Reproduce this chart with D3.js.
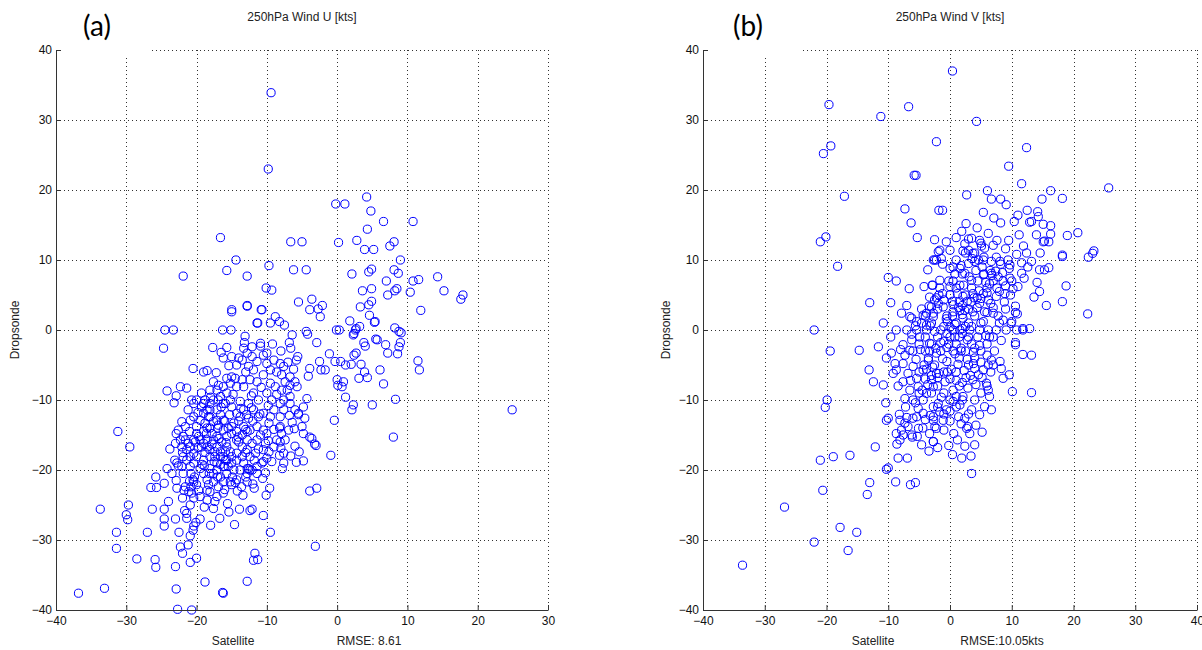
<!DOCTYPE html>
<html>
<head>
<meta charset="utf-8">
<script src="https://cdn.jsdelivr.net/npm/d3@7"></script>
<style>
  body { margin: 0; background: #fff; }
  svg { display: block; }
  .tick text { font-family: "Liberation Sans", Arial, sans-serif; font-size: 12px; fill: #111; }
  .lbl { font-family: "Liberation Sans", Arial, sans-serif; font-size: 12px; fill: #222; }
  .tag { font-family: Lato, "Open Sans", sans-serif; font-size: 28px; fill: #000; }
</style>
</head>
<body>
<svg width="1202" height="650"></svg>
<script>
// ticks
const tickY = [-40, -30, -20, -10, 0, 10, 20, 30, 40];
const tickXU = [-40, -30, -20, -10, 0, 10, 20, 30];
const tickXV = [-40, -30, -20, -10, 0, 10, 20, 30, 40];

// panel (a): [satellite, dropsonde] U wind, kts
const windU = [
  [-16.6,13.2],[-14.4,10],[-15.7,8.5],[-12.8,7.7],[-21.9,7.7],[-12.8,3.5],[-15,2.9],
  [-9.4,33.9],[-9.8,23],[4.2,19],[-0.2,18],[1.1,18],[4.8,17],[6.6,15.5],[10.8,15.5],[4.3,14.4],
  [-6.6,12.6],[-5,12.6],[0.2,12.5],[2.8,12.8],[3.9,11.5],[5.2,11.5],[7.5,12],[8.1,12.6],[9,10],
  [-9.7,9.2],[-6.2,8.6],[-4.4,8.6],[2.1,8],[4.5,8.3],[4.9,8.7],[8.1,8.6],[8.7,8.1],[-10.1,6],[-9.3,5.7],
  [7,7],[10.8,7],[11.6,7.2],[14.3,7.6],[15.2,5.6],[17.9,5],[17.6,4.4],[3.6,5.6],[4.9,5.9],[7.2,5],
  [8.2,5.6],[8.5,5.9],[10.4,5.4],[-5.5,4],[-3.6,4.4],[-2.1,3.5],[-3.9,2.9],[-2.7,3],[-2.4,1.9],
  [3.3,3.3],[4.5,3.6],[4.9,4.1],[4.6,2.1],[5.4,1.2],[11.9,2.8],[-10.7,2.9],[-11.4,1],[-9.5,1],
  [-8.8,1.9],[-8.2,1.2],[-7.5,0.7],[-6.4,-0.7],[-4.4,-0.2],[-4.2,-0.6],[1.8,1.3],[2.6,0],[3.2,0.5],
  [2.3,-0.7],[-0.1,0],[0.3,0],[8.2,0.3],[8.8,-0.2],[5.5,-1.3],
  [5.3,1.1],[2.7,0.2],[2.4,-0.5],[9.1,-0.4],[5.7,-1.4],[6.9,-2.1],[3.8,-1.8],[4,-2.3],[9,-1.8],
  [8.8,-2.4],[8.6,-3.4],[7.2,-3.3],[2.7,-3.3],[2.4,-3.6],[0.5,-4.5],[2,-4.9],[3.4,-4.9],[11.5,-4.4],
  [11.7,-5.7],[6.1,-5.7],[3.9,-6],[4.3,-6.8],[3.1,-6.9],[6.6,-7.7],[0.9,-7.4],[0.7,-8.1],[1.2,-9.6],
  [2.3,-10.7],[2.1,-11.4],[5,-10.7],[8.3,-9.9],[24.9,-11.4],[8,-15.3],
  [-36.8,-37.6],[-33.1,-36.9],[-33.7,-25.6],[-31.2,-14.5],[-29.5,-16.7],[-31.4,-28.9],[-31.4,-31.2],
  [-29.7,-25],[-30,-26.4],[-29.8,-27.1],[-28.5,-32.7],[-27,-28.9],[-25.9,-32.8],[-25.8,-33.9],
  [-26.3,-25.6],[-25.8,-21],[-25.7,-22.5],[-24.6,-21.9],[-24.6,-25.6],[-24.6,-27],[-24.6,-28],
  [-24,-24.5],[-24.7,-2.6],[-24.5,0],[-23.3,0],[-24.2,-8.7],[-22.9,-9.4],[-22.3,-8.1],[-21.4,-8.3],
  [-23.2,-10.4],[-20.5,-5.5],[-19,-6],[-18.5,-5.8],[-17.2,-6.1],[-17.7,-2.5],[-16.3,0],[-15.1,0],
  [-15,2.6],[-16.5,-3.2],[-16.2,-4],[-15.7,-2.5],[-15.4,-5.1],[-12.8,3.4],[-10.8,2.9],[-11.3,1],
  [-13.1,-0.9],[-13.2,-1.8],[-13.3,-2.6],[-10.9,-2.3],[-6.8,-1.8],[-6.6,-2.6],[-5.6,-3.8],[-5.8,-4.3],
  [-2.9,-1.8],[-3.9,-5.5],[-4.1,-6.6],[-2.3,-5.7],[-1.7,-5.7],[-2.5,-4.5],[-1.1,-3.4],[-0.3,-4.5],
  [1.2,-5],[0,-7.1],[0.1,-7.9],[-0.4,-12.9],[-0.9,-17.9],[-3.2,-16.3],[-3,-16.5],[-3.9,-15.3],
  [-3.6,-15.5],[-2.9,-22.6],[-3.9,-23],[-3.1,-30.9],[-4.8,-18.7],[-5.8,-18.9],[-6.6,-18],[-4.8,-14.8],
  [-5,-13.8],[-6.1,-14.1],[-6.4,-13.2],[-4.6,-12.6],[-5.5,-11.9],[-7.8,-19.8],[-8.2,-17.9],[-8,-16.9],
  [-8.1,-16],[-7.9,-14.8],[-8.2,-14],
  [-9.5,-28.9],[-11.7,-31.9],[-11.3,-32.8],[-11.9,-32.9],[-12.8,-35.9],[-16.3,-37.5],[-16.2,-37.6],
  [-18.8,-36],[-20.9,-33.2],[-20,-32.6],[-23,-33.8],[-22.9,-37],[-22.7,-39.9],[-20.7,-40],[-22.3,-31],
  [-22,-31.9],[-20.9,-29.4],[-20.5,-28.6],[-21.2,-30.7],[-20.4,-28],[-20.1,-27.5],[-22.5,-28.9],
  [-23,-27],[-21.7,-25.8],[-21.4,-26.2],[-21.4,-26.9],[-18,-27.9],[-16.7,-26.9],[-15.4,-26],
  [-13.9,-25.6],[-12.4,-25.8],[-12.1,-25.6],[-13.4,-23.6],[-11.8,-22.6],[-10.6,-21.2],[-10.1,-23.6],
  [-9.6,-22.6],[-18.9,-25.3],[-18.5,-24.3],[-17.1,-23.8],[-17.4,-24.5],[-20.9,-25],[-20.4,-24],
  [-20.7,-23.3],[-21.1,-23.1],[-21.6,-22.4],[-21.8,-22.9],[-22.8,-22.6],[-22.9,-21.5],[-23.5,-20.5],
  [-22.8,-19],[-23.1,-18.6],[-22.6,-19.4],[-18.5,-21.4],[-18.3,-22.1],[-17.6,-21.7],[-16.9,-22.4],
  [-16.2,-21.7],[-15.2,-21.7],[-14.5,-21.8],[-20.8,-20.5],[-20.5,-21.4],[-20.8,-22.4],[-20.3,-21],
  [-18.9,-19.4],[-18.1,-19.8],[-17.1,-20],[-16,-19.5],[-15,-19],[-12.8,-19.8],[-12.4,-20],[-11.4,-19.5],
  [-10.7,-19],[-10.5,-18.8],[-9.3,-18.8],[-7.6,-19],[-21.4,-17.1],[-20.9,-18.1],[-20.4,-17.6],
  [-21.2,-16.2],[-21.6,-15.7],[-22.1,-16.7],[-22.6,-14.3],[-23,-16.2],[-22.9,-14.8],[-22.1,-13.1],
  [-21.6,-13.8],[-20.9,-12.9],[-20.4,-12.4],[-21.2,-11.4],[-20.4,-10.5],[-20,-10],[-20.7,-10],[-19.3,-9],
  [-18.8,-10],[-18.5,-11.4],[-19.3,-11],[-18.1,-10.5],[-19.5,-12.9],[-18.8,-13.3],[-18.1,-14],
  [-18.3,-12.4],[-17.6,-13.1],[-19,-14.5],[-19.7,-15.2],[-18.5,-15.7],[-17.6,-15.7],[-17.1,-16.7],
  [-18.1,-17.1],[-17.4,-18.1],[-16.6,-17.4],[-15.9,-18.6],[-18.5,-16.7],[-19.3,-16.7],
  [-17.1,-11.4],[-16.6,-12.1],[-16.2,-12.9],[-16.9,-10],[-15.9,-10.5],[-15.2,-10],[-15.7,-9],[-15,-11],
  [-14.3,-11.9],[-14.7,-13.3],[-16.2,-14.3],[-15.7,-15.2],[-15,-14.8],[-14.3,-15.7],[-13.5,-16.7],
  [-14.3,-17.6],[-15,-18.1],[-13.5,-18.1],[-12.8,-17.1],[-12.4,-18.1],[-12.8,-15.7],[-12.1,-16.2],
  [-11.4,-15.7],[-12.4,-14.3],[-13.3,-13.8],[-13.8,-12.4],[-12.6,-12.6],[-13.3,-11.4],[-12.6,-10.5],
  [-11.9,-11.4],[-11.2,-12.4],[-11.4,-13.8],[-10.5,-14.3],[-10.9,-15],[-10.2,-16.2],[-9.7,-17.4],
  [-10.5,-17.1],[-11.6,-17.6],[-10,-14.8],[-9.7,-13.3],[-10.5,-11.9],[-11.2,-10],[-11.9,-9],[-13.3,-8.1],
  [-14.3,-8.1],[-13.5,-7.1],[-14.5,-6.9],[-15.2,-7.6],[-16.2,-8.1],[-16.9,-7.9],[-17.6,-7.4],[-17.1,-8.6],
  [-18.1,-8.6],[-15.7,-6.9],[-15,-6.7],[-12.4,-7.1],[-11.4,-7.4],[-10.5,-6.4],[-11.9,-5.7],[-12.6,-5.2],
  [-11.4,-4.5],[-12.1,-3.8],[-10.5,-3.6],[-10,-4.8],[-9.5,-5.7],[-8.6,-6],[-7.9,-6.4],[-7.4,-7.4],
  [-6.7,-7.9],[-6,-7.4],[-5.7,-8.1],[-6.7,-6.7],[-7.6,-5.2],[-8.1,-4.8],[-9,-4.3],[-10,-3.3],[-10.9,-1.9],
  [-12.1,-2.4],[-12.8,-3.3],[-13.5,-4.3],[-14.3,-5],[-15,-3.8],[-7.6,-10],[-6.7,-10.5],[-6,-11.4],
  [-5.5,-12.1],[-4.8,-11],[-4.3,-9.8],[-7.6,-11.4],[-8.1,-12.4],[-8.1,-13.8],[-6.9,-14.3],[-7.4,-15.7],
  [-8.6,-15.7],[-9,-16.7],[-7.6,-17.6],[-8.1,-10.5],[-6.7,-9.5],[-7.1,-8.6],[-7.9,-8.6],[-8.8,-8.1],
  [-9.5,-7.6],[-10,-9],[-9.3,-10],[-9,-11.4],[-9.5,-12.4],
  [-20,-14.8],[-19.5,-15.7],[-19,-16.2],[-20,-18.1],[-19,-18.6],[-18.1,-18.1],[-17.1,-19],[-16.2,-19.5],
  [-15.7,-20.5],[-16.6,-21],[-17.6,-20.5],[-19,-20.5],[-19.5,-19.8],[-20.4,-19],[-21.4,-18.6],[-21.9,-18.1],
  [-20.9,-16.7],[-20,-13.8],[-19,-11.9],[-18.1,-12.4],[-17.6,-10],[-16.6,-9.5],[-16.2,-10.5],[-18.5,-14],
  [-17.8,-14.8],[-17.1,-15.2],[-16.4,-16],[-15.7,-16.7],[-15.2,-17.4],[-15.9,-17.4],[-16.6,-18.1],
  [-17.4,-17.4],[-14.3,-18.6],[-13.3,-19],[-13.8,-20],[-14.7,-20],[-12.8,-20.5],[-11.4,-20.5],[-10,-18.3],
  [-16.2,-18.1],[-15.7,-18.6],[-15,-13.8],[-14.3,-14.5],[-13.5,-15],[-12.8,-14.5],[-17.1,-12.9],
  [-18.1,-11.4],[-19,-10.5],[-20.4,-15.7],[-21.9,-15.2],[-22.3,-15.7],[-20.9,-19.5],[-21.9,-20.5],
  [-22.1,-19.5],[-20.4,-21.7],[-19.7,-22.9],[-20,-22.1],[-18.1,-23.1],[-18.5,-22.9],[-16.2,-23.3],
  [-15,-22.1],[-14.3,-21.4],[-12.6,-19.8],[-12.1,-20],[-12.8,-21.7],
  [-16,-13],[-17,-14],[-14,-16],[-13,-17.5],[-15.5,-19.5],[-17.5,-18.8],[-18.8,-17.5],[-19.8,-16.8],
  [-16.8,-15.5],[-15.5,-14],[-14,-13],[-13,-14.2],[-12,-13],[-11,-12],[-13.8,-10.2],[-14.8,-9.2],
  [-16.5,-11],[-18,-9.6],[-19.8,-11.8],[-21,-14.5],[-20.2,-16],[-19.2,-19.2],[-18.2,-20.5],[-17,-21],
  [-16,-22.8],[-19.5,-23.8],[-21,-21.6],[-22,-17.5],[-23.8,-17],[-24.2,-19.8],[-12,-22],[-13,-21],
  [-14.2,-23],[-15.6,-24.8],[-11.2,-17],[-9.8,-15.8],[-9,-14.2],[-9.8,-10.8],[-8.6,-9.2],[-10.8,-8.2],
  [-12.2,-9.4],[-13,-6],[-14,-4],[-9.2,-2],[-8,-3],[-7,-4.6],[-6.2,-5.6],[-6.8,-12.2],[-6,-16.6],
  [-5.4,-17.4],[-10.5,-26.5],[-14.6,-27.8],[-17.6,-25.5],[-22,-24],[-19.5,-27],[-26.5,-22.5],
  [-18.6,-14.8],[-16.9,-13.6],[-15.3,-12.1],[-13.7,-11.2],[-12.9,-12.1],[-12.2,-11.1],[-14.1,-15.3],
  [-15.8,-16.1],[-17.8,-16.3],[-16.6,-19.2],[-14.9,-21],[-13.6,-22.4],[-11.8,-18.6],[-10.2,-20.4]
];

// panel (b): [satellite, dropsonde] V wind, kts
const windV = [
  [-19.6,32.2],[-6.7,31.9],[-11.2,30.5],[-2.2,26.9],[-20.5,25.2],[-19.3,26.3],[-5.8,22.1],[-5.5,22.1],
  [-17.1,19.1],[-7.3,17.3],[-6.3,15.3],[-5.3,13.2],[-2.5,12.9],[-1.8,17.1],[-20.1,13.3],[-21,12.6],
  [-18.2,9.1],[-2.7,10],[-2.5,10],[-2.2,10],[-1.9,11.2],[-10,7.5],[-8.7,7],[-6.6,5.9],[-2.9,6.4],
  [-1.65,7.1],[-13,3.9],[-9.6,3.9],[-7,3.5],[-3.3,4.7],[-1.8,5],[-7.85,2.4],[-6.5,1.9],[-6.2,1.7],
  [-5.4,1.2],[-4.35,2.1],[-3.8,2.4],[-2.7,1.9],[-3,3.3],[-1.9,3.8],[-4.6,1],[-3.8,0.7],[-22,0],
  [-8.7,0],[-7,0],[-5.4,0],
  [0.4,37],[4.3,29.8],[12.4,26.05],[9.5,23.4],[11.6,20.9],[25.7,20.3],[16.3,19.9],[2.7,19.3],[6.06,19.9],
  [6.7,18.7],[8.2,18.7],[9.1,17.9],[14.9,18.7],[18.2,18.8],[-1.2,17.1],[5.4,16.8],[7.1,16],[8.2,15.3],
  [10.4,15.5],[11,16.4],[12.5,17.1],[14.2,16.9],[14.3,16.2],[13.2,15.5],[12.9,15.4],[15.1,15.1],
  [16.3,14.9],[15.3,12.7],[15.1,12.6],[16,12.6],[1.9,14.1],[11.2,13.6],[14,13.6],[16.3,13.7],[19,13.5],
  [20.7,13.9],[9.5,12.8],[11.9,12],[12.4,11],[14.6,11],[18.2,10.7],[18.2,10.5],[23.3,11.3],[23.1,10.95],
  [22.4,10.4],[-1.65,11.4],[0,11.4],[2.1,11.3],[3.7,10.95],[4.8,12.8],[3.5,13.1],[2.4,12.3],[5.1,12],
  [5.6,11.7],[7,12.1],[-1.2,9.4],[0.5,9],[1.6,8.8],[4,9.8],[5.4,10],[6.7,9.8],[8.1,9.8],[9.4,10],
  [9.7,9.3],[11.6,9.6],[13.2,9.8],[14.5,8.6],[15.3,8.6],[16,8.9],[11.6,8.1],[9.7,7.4],[7.8,7.6],
  [6.7,8.1],[5.4,7.9],[2.4,8.1],[3.5,7.1],[1.6,6.4],[0,6.2],[-1.65,6],[-2.8,6.4],[14.1,6.8],[14.5,5.5],
  [13.6,4.7],[18.8,6.3],[15.6,3.5],[18.2,4.05],[22.3,2.3],[10.6,2.5],[10.9,2.3],[2.1,4.8],[3.7,5.2],
  [4.8,3.8],[6.2,4.3],[7.5,4.8],[8.9,5.2],[10.2,5.9],[-1.1,3.3],[0.5,2.6],[2.1,1.7],[3.7,2.6],[5.4,1.2],
  [7,2.4],[8.6,1.4],[9.9,0.95],[-2.5,4.3],[-2.7,2.4],[11.8,0.2],[12.9,0.2],
  [-19.4,-3],[-14.7,-2.9],[-13.1,-5.7],[-12.4,-7.4],[-10.8,-7.85],[-10.3,-4],[-9.5,-3.3],[-8.9,-4.8],
  [-8.7,-5.7],[-10.4,-10.4],[-19.9,-10],[-20.2,-11.05],[-10,-12.6],[-10.3,-12.9],[-8.2,-12.05],
  [-8.1,-12.9],[-7,-12.5],[-7.3,-13.3],[-6.8,-13.8],[-7.85,-14.3],[-5.4,-12.4],[-5.1,-14.05],
  [-5.3,-15.2],[-6.2,-15],[-8.7,-14.8],[-8.1,-15.7],[-7.6,-15],[-6.1,-15.3],[-8.6,-16.3],[-8.4,-18.3],
  [-6.9,-18.3],[-12.1,-16.7],[-16.2,-17.9],[-18.9,-18.1],[-21,-18.6],[-10.3,-19.9],[-10,-19.7],
  [-13,-21.8],[-8.8,-21.7],[-6.4,-22.1],[-5.6,-21.8],[-13.4,-23.5],[-20.6,-22.9],[-26.8,-25.3],
  [-17.8,-28.2],[-15.1,-28.9],[-22,-30.3],[-16.5,-31.5],[-33.6,-33.6],[-3.8,0],
  [-7.6,-2.1],[-6.5,-2.9],[-7.3,-3.6],[-6.2,-1.4],[-4.9,-1],[-3.3,-1.9],[-7.6,-4.8],[-5.97,-5.2],
  [-6.8,-6.2],[-5.4,-6.9],[-4.35,-5.7],[-3,-7.1],[-7.6,-7.4],[-6.5,-8.6],[-5.15,-8.1],[-3.8,-9.05],
  [-2.7,-8.1],[-4.35,-10],[-2.7,-10.95],[-2.2,-6.2],[-2.2,-3.3],[-3.5,-4.3],[-2.7,-12.9],[-2.7,-15.95],
  [-3.3,-14.8],[-2.45,-13.8],[-5.15,-11.2],[-4.35,-11.9],
  [11.8,0],[10.8,0],[9.1,0],[7.5,0],[6.2,0],[4.8,0],[3.2,0],[1.6,0],[10.6,-1.8],[10.6,-2.1],[11.8,-3.5],
  [13.2,-3.6],[8.3,-1.5],[8.1,-4.5],[8.3,-5.5],[8.6,-6.9],[9.6,-6.4],[10.1,-8.8],[13.2,-8.95],[6.7,-4.3],
  [6.2,-5],[5.4,-5.7],[4.6,-6.4],[3.7,-7.1],[2.9,-8.3],[2.1,-9.5],[5.9,-7.6],[6.2,-8.6],[6.4,-9.5],
  [5.6,-10.95],[6.7,-11.4],[4.8,-12.1],[3.5,-11.4],[2.4,-12.6],[2.9,-13.8],[3.2,-14.8],[2.7,-14.05],
  [4,-16.4],[1.9,-18.3],[3.5,-20.5],[-1.1,-12.9],[-2.2,-14.05],[-2.7,-15.95],[-1.9,-10.5],[-0.57,-11.4],
  [0,-10],[1,-9.5],[-2.7,-12.4],[-1.65,-11.7],[0.5,-10.2],[1.6,-10.7],
  [-4,-1],[-3,-2],[-2,-1],[-1,0.5],[0,-1],[1,-2],[2,-0.5],[3,1],[-3.5,-4],[-2.5,-5],[-1.5,-3],
  [-0.5,-4.5],[0.5,-3],[1.5,-4],[2.5,-3],[3.5,-2],[4.5,-1],[5,1],[6,2.5],[-1,-6],[0,-7],[1,-6],
  [2,-7.5],[3,-5],[4,-4],[-2,-8],[-1,-9],[0.5,-8.6],[1.5,-8],[-3,-6.5],[-4,-3],[-5,-2],[-0.5,2],
  [0.5,3.6],[1.5,4],[2.5,5],[3.5,6],[4.5,7],[5.5,8],[1,6],[2,8],[3,9.5],[4,11],[5,12.4],[6,6],[7,7],
  [-1,4.3],[0,5],[2,2.2],[3,3],[4,2],[5,4.5],[6,5.3],[7,3.2],[8,5.5],[4,-5.5],[5,-3],[6,-2],[7,-1],
  [-2,-11],[-1,-12],[0,-13],[1,-11],[2,-10],[3,-12],[-3,-9],[-4,-7],[-5,-6],[-6,-3],[-2,3],[-3,1],
  [-4,2],[1,1],[2,3.5],[0.5,7],[3,13],[1,10],[0,8.8],[2.5,11],[5.5,10.4],[6.5,8.5],[7.5,10.4],
  [8.5,8.2],[9,6.3],[8,1],[9,3],[10,1.2],[10,7],[6,-8],[7,-5],[5,-9],[4,-10],[-5,-9],[-6,-10],
  [-1.5,-1.8],[-0.5,-2.5],[0.8,-1],[1.8,-2.6],[2.8,-1.4],[3.8,-3.2],[-2.3,-2.6],[-3.3,-3],[-1.2,-4.1],
  [0.2,-5.6],[1.3,-4.9],[2.3,-5.8],[3.3,-6.5],[-0.8,-7.4],[-1.8,-6.2],[-2.8,-5.3],[-4.2,-5],
  [0.8,0.8],[1.6,2.8],[2.8,4.1],[3.9,4.6],[4.7,5.6],[5.8,6.8],[6.8,7.8],[4.2,8.5],[3.1,7.6],[2.2,6.4],
  [1.2,5.2],[0.4,4.1],[-0.4,1.2],[4.4,3.2],[5.6,2.6],[6.6,3.8],[7.6,6],[8.6,7],[9.6,8.8],[3.6,10.2],
  [-5.5,-4.2],[-4.5,-8.6],[-3.6,-7.8],[-6.4,-7.2],[-7.3,-9.8],[-5.6,-10.4],[-4,-12.8],[-1,-14.3],
  [0.6,-14.8],[1.8,-13.4],[-0.2,-16.5],[1.2,-15.7],[4.2,-13.6],[5.2,-14.6],[-3.4,-17.3],[-4.6,-16.4],
  [-0.5,-0.5],[0.5,0],[1.5,-1],[2.5,0.5],[3.5,0.5],[-1.5,0],[-2.5,-0.2],[-3.2,0.6],[-0.2,-2],[0.8,-3.4],
  [1.8,-3],[2.8,-4.2],[3.8,-4.8],[4.8,-2.2],[5.8,-0.8],[-0.6,1.6],[0.4,2],[1.4,3.2],[2.4,2.8],[3.4,4],
  [4.4,4.6],[5.4,5.2],[6.4,6.6],[7.4,8.4],[8.2,9.4],[5.2,9],[4.6,10],[3,11.4],[1.8,9.2],[0.8,8],
  [-0.2,7],[-1.2,5.2],[-2.2,4.6],[-3.4,3.4],[-4.6,3],[-5.6,0.6],[-6.2,-0.6],[-4.8,-2.8],[-3.8,-5.6],
  [-2,-6.8],[-0.4,-6],[1,-7.2],[2.6,-6.8],[4.2,-7.8],[5.2,-6.8],[6.6,-6],[7.2,-3],[6.4,-1],[7.8,2],
  [8.8,4],[9.8,5],[10.6,3.4],[11,6.2],[12,7.4],[12.6,9],[10.8,10.8],[9,11.6],[7.6,12.8],[6.2,13.8],
  [4.4,14.6],[2.6,15.2],[1,13.2],[-0.6,12.6],[-1.4,10.2],[-3.6,8.6],[-4.2,6.2],[-1.4,-9.6],[0,-11.6],
  [1.4,-12.4],[-3.2,-12.2],[-4.4,-14],[-2,-16.8],[0.4,-17.8],[2.4,-16.6],[3.4,-18],[-6,-12.6],
  [-7.2,-11],[-8.4,-8],[-9.2,-6.2],[-8,-2.8],[-9.6,-1],[-10.8,1],[-11.6,-2.4],[2,0.2],[0,0.4],
  [-1,-1.6],[3,-1],[4,-2.6],[5,-4.6],[6,-3.6]
];

const svg = d3.select("svg");
const cy = d3.scaleLinear().domain([-40, 40]).range([610, 50]);

function drawPanel(data, xDomain, xRange, xTicks, title, tag, tagX, rmse, rmseX, satX, yLabX, boxRight) {
  const x = d3.scaleLinear().domain(xDomain).range(xRange);
  const g = svg.append("g");

  // dotted grid
  const grid = g.append("g").attr("stroke", "#333").attr("stroke-width", 1)
    .attr("stroke-dasharray", "1,3").attr("shape-rendering", "crispEdges");
  grid.selectAll("line.v").data(xTicks.slice(1)).enter().append("line")
    .attr("x1", d => Math.round(x(d)) + 0.5).attr("x2", d => Math.round(x(d)) + 0.5)
    .attr("y1", cy(40)).attr("y2", cy(-40));
  grid.selectAll("line.h").data(tickY.slice(1)).enter().append("line")
    .attr("x1", xRange[0]).attr("x2", xRange[1])
    .attr("y1", d => Math.round(cy(d)) + 0.5).attr("y2", d => Math.round(cy(d)) + 0.5);

  // white box left by the pasted (a)/(b) label
  g.append("rect").attr("x", xRange[0] + 6).attr("y", 0)
    .attr("width", boxRight - xRange[0] - 6).attr("height", 57).attr("fill", "#fff");

  // points
  g.append("g").selectAll("circle").data(data).enter().append("circle")
    .attr("cx", d => x(d[0])).attr("cy", d => cy(d[1])).attr("r", 4.1)
    .attr("fill", "none").attr("stroke", "#0000ff").attr("stroke-width", 1);

  // axes, ticks pointing inward
  g.append("g").attr("transform", "translate(" + xRange[0] + ",0)")
    .call(d3.axisLeft(cy).tickValues(tickY).tickSizeInner(-5).tickSizeOuter(0).tickPadding(4))
    .call(s => s.selectAll("line, path").attr("stroke", "#333"));
  g.append("g").attr("transform", "translate(0," + cy(-40) + ")")
    .call(d3.axisBottom(x).tickValues(xTicks).tickSizeInner(-5).tickSizeOuter(0).tickPadding(6))
    .call(s => s.selectAll("line, path").attr("stroke", "#333"));

  const mid = (xRange[0] + xRange[1]) / 2;
  svg.append("text").attr("class", "lbl").attr("x", mid).attr("y", 21)
    .attr("text-anchor", "middle").text(title);
  svg.append("text").attr("class", "tag").attr("x", tagX).attr("y", 36)
    .attr("text-anchor", "middle").text(tag);
  svg.append("text").attr("class", "lbl").attr("x", satX).attr("y", 645)
    .attr("text-anchor", "middle").text("Satellite");
  svg.append("text").attr("class", "lbl").attr("x", rmseX).attr("y", 645)
    .attr("text-anchor", "middle").text(rmse);
  svg.append("text").attr("class", "lbl")
    .attr("transform", "translate(" + yLabX + ",330) rotate(-90)")
    .attr("text-anchor", "middle").text("Dropsonde");
}

drawPanel(windU, [-40, 30], [56, 548], tickXU, "250hPa Wind U [kts]", "(a)", 97,
  "RMSE: 8.61", 369, 233, 19, 150);
drawPanel(windV, [-40, 40], [703, 1197], tickXV, "250hPa Wind V [kts]", "(b)", 748,
  "RMSE:10.05kts", 1002, 873, 670, 802);
</script>
</body>
</html>
